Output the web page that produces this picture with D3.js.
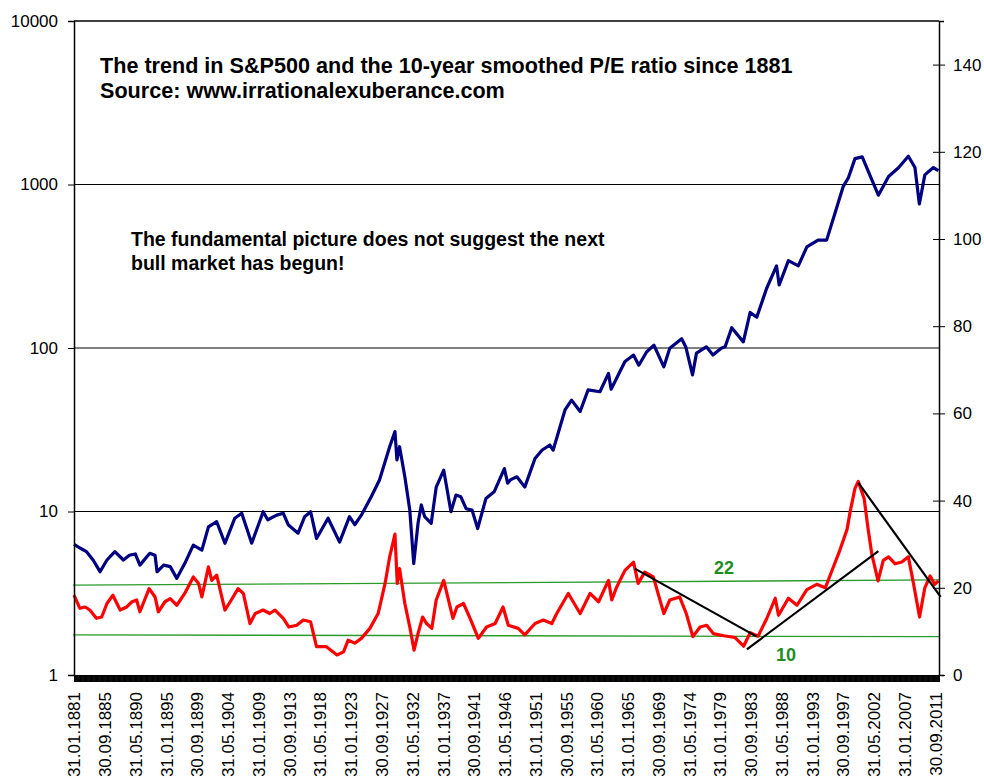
<!DOCTYPE html>
<html><head><meta charset="utf-8">
<script src="https://cdn.jsdelivr.net/npm/d3@7/dist/d3.min.js"></script>
<style>
body{margin:0;background:#fff}
svg text{font-family:Arial,"Liberation Sans",sans-serif}
</style>
</head><body>
<svg id="chart" width="984" height="778"></svg>
<script>
// ---- data ----
const spYears = [1881.0,1881.9,1882.9,1883.9,1884.5,1884.95,1886.0,1887.2,1888.5,1889.4,1890.3,1891.0,1892.5,1893.3,1893.6,1894.6,1895.6,1896.6,1897.8,1899.1,1900.4,1901.4,1902.65,1903.9,1905.4,1906.45,1907.96,1909.7,1910.4,1911.76,1912.76,1913.5,1915.0,1916.0,1916.9,1917.8,1919.55,1921.3,1922.8,1923.6,1924.6,1926.1,1927.35,1928.9,1929.7,1930.0,1930.4,1931.2,1931.95,1932.55,1933.2,1933.7,1934.2,1935.2,1935.96,1937.1,1938.2,1938.95,1939.7,1940.5,1941.4,1942.25,1943.5,1944.75,1946.3,1946.8,1947.2,1948.2,1949.4,1950.95,1952.0,1953.2,1953.7,1955.5,1956.5,1957.8,1959.0,1960.8,1962.1,1962.5,1964.6,1965.9,1966.7,1967.9,1969.0,1970.5,1971.4,1973.2,1973.85,1974.85,1975.45,1976.95,1977.95,1979.2,1979.8,1980.8,1982.56,1983.6,1984.6,1986.1,1987.6,1988.0,1989.4,1990.9,1992.2,1993.9,1995.2,1996.5,1997.7,1998.5,1999.5,2000.6,2002.05,2003.05,2004.6,2006.1,2007.6,2008.6,2009.27,2010.1,2011.4,2012.15];
const spValues = [6.3,5.98,5.68,5.05,4.6,4.28,5.05,5.68,5.05,5.4,5.5,4.7,5.55,5.4,4.28,4.7,4.6,3.9,4.8,6.23,5.8,8.06,8.66,6.39,9.1,9.75,6.4,9.97,8.9,9.5,9.75,8.3,7.37,9.3,9.97,6.84,9.1,6.5,9.3,8.3,9.5,12.3,15.6,24.9,30.8,20.7,24.9,16.3,10.2,4.8,8.47,10.96,9.3,8.47,14.1,17.9,9.97,12.6,12.3,10.4,10.2,7.87,12.0,13.2,18.3,14.9,15.6,16.3,14.1,21.1,23.7,25.5,23.7,41.8,48,40.9,55.4,54,70,56,82.6,90.5,78.5,94.9,104,76.7,99.6,114,101,68.5,93,101.7,90.5,99.5,101.7,133,109,165,154,232,318,243,342,318,415,457,457,674,970,1100,1440,1475,1070,860,1120,1265,1490,1270,760,1145,1270,1215];

const peYears = [1881.0,1881.9,1882.7,1883.4,1884.4,1885.2,1886.0,1886.9,1888.0,1889.0,1889.8,1890.5,1891.0,1892.4,1893.3,1893.8,1894.8,1895.6,1896.6,1897.8,1899.1,1899.9,1900.4,1901.4,1901.9,1902.65,1903.9,1904.7,1905.9,1906.7,1907.7,1908.5,1909.7,1910.7,1911.5,1912.76,1913.6,1914.8,1915.8,1916.9,1917.8,1919.3,1920.9,1921.9,1922.6,1923.6,1924.6,1925.9,1927.15,1928.2,1928.9,1929.7,1930.05,1930.4,1931.2,1931.95,1932.6,1933.2,1933.9,1934.5,1935.3,1935.96,1937.1,1938.5,1939.1,1940.1,1941.1,1942.35,1943.6,1944.9,1946.1,1946.9,1948.4,1949.4,1950.95,1952.2,1953.5,1954.25,1956.0,1957.8,1959.3,1960.6,1962.1,1962.6,1963.35,1964.6,1965.9,1966.6,1967.6,1968.9,1970.5,1971.4,1972.9,1973.9,1974.9,1976.0,1977.0,1978.0,1979.6,1981.3,1982.6,1983.6,1984.8,1986.1,1987.4,1987.9,1989.4,1990.7,1992.2,1993.7,1995.0,1996.0,1997.2,1998.3,1998.75,1999.5,2000.0,2000.9,2001.5,2002.05,2003.0,2003.8,2004.6,2005.6,2006.6,2007.6,2008.4,2009.3,2010.1,2010.9,2011.6,2012.15];
const peValues = [18.3,15.3,15.6,14.9,13.0,13.3,16.4,18.3,14.9,15.6,16.8,17.2,14.5,19.8,17.9,14.5,16.8,17.5,16.0,18.7,22.5,21.0,17.9,24.8,21.7,22.9,14.9,16.8,19.8,18.7,11.8,14.1,14.9,14.1,14.9,13.0,11.0,11.4,12.6,12.2,6.5,6.5,4.6,5.3,8.0,7.3,8.4,10.7,14.1,21.0,27.1,32.3,21.0,24.4,16.4,11.0,5.7,9.5,13.3,11.8,10.7,17.2,21.7,13.0,15.6,16.4,13.0,8.4,11.0,11.8,15.6,11.4,10.7,9.2,11.8,12.6,11.8,14.1,18.7,14.1,18.7,16.8,21.7,17.2,20.2,24.0,25.9,21.0,23.6,22.5,14.1,17.2,17.9,14.1,8.8,11.0,11.4,9.5,9.0,8.6,6.6,9.7,8.9,12.9,17.6,13.7,17.6,16.0,19.6,20.8,20.0,23.9,28.6,33.4,37.3,42.8,44.4,40.4,33.4,27.8,21.6,26.3,27.1,25.5,25.9,27.1,20.8,13.3,20.0,22.7,20.8,21.6];

// hand-drawn trend lines on the P/E (right) axis
const trendStartYear = [1966.1, 1983.1, 2000.0];
const trendStartPE   = [24.4, 5.9, 44.1];
const trendEndYear   = [1984.6, 2003.05, 2012.5];
const trendEndPE     = [8.8, 28.4, 17.9];

// green reference bands (P/E 22 and 10)
const bandLabels    = ["22", "10"];
const bandStartPE   = [20.6, 9.2];
const bandEndPE     = [21.8, 8.8];
const bandLabelYear = [1978.1, 1987.5];
const bandLabelPE   = [23.1, 3.2];

const leftTicks  = [1, 10, 100, 1000, 10000];
const rightTicks = [0, 20, 40, 60, 80, 100, 120, 140];
const xLabels = ["31.01.1881","30.09.1885","31.05.1890","31.01.1895","30.09.1899","31.05.1904","31.01.1909","30.09.1913","31.05.1918","31.01.1923","30.09.1927","31.05.1932","31.01.1937","30.09.1941","31.05.1946","31.01.1951","30.09.1955","31.05.1960","31.01.1965","30.09.1969","31.05.1974","31.01.1979","30.09.1983","31.05.1988","31.01.1993","30.09.1997","31.05.2002","31.01.2007","30.09.2011"];

const titleLines = ["The trend in S&P500 and the 10-year smoothed P/E ratio since 1881", "Source: www.irrationalexuberance.com"];
const noteLines = ["The fundamental picture does not suggest the next", "bull market has begun!"];

// ---- layout ----
const L = 74, R = 939, T = 21, B = 675;
const svg = d3.select("#chart");
const x = d3.scaleLinear().domain([1881, 2012.25]).range([L, R]);
const yL = d3.scaleLog().domain([1, 10000]).range([B, T]);
const yR = d3.scaleLinear().domain([0, 150]).range([B, T]);

// horizontal gridlines (log decades)
svg.append("g").selectAll("line").data(leftTicks.slice(1)).join("line")
  .attr("x1", L).attr("x2", R).attr("y1", d => yL(d)).attr("y2", d => yL(d))
  .attr("stroke", "#000").attr("stroke-width", 1.2);

// green bands
svg.append("g").selectAll("line").data(bandLabels).join("line")
  .attr("x1", L - 1).attr("x2", R)
  .attr("y1", (d, i) => yR(bandStartPE[i])).attr("y2", (d, i) => yR(bandEndPE[i]))
  .attr("stroke", "#2a9a2a").attr("stroke-width", 1.3);

// series
const sp = spYears.map((t, i) => [t, spValues[i]]);
const pe = peYears.map((t, i) => [t, peValues[i]]);
svg.append("path").datum(sp)
  .attr("d", d3.line().x(d => x(d[0])).y(d => yL(d[1])))
  .attr("fill", "none").attr("stroke", "#000080").attr("stroke-width", 3.2).attr("stroke-linejoin", "round");
svg.append("path").datum(pe)
  .attr("d", d3.line().x(d => x(d[0])).y(d => yR(d[1])))
  .attr("fill", "none").attr("stroke", "#ff0000").attr("stroke-width", 3.2).attr("stroke-linejoin", "round");

// trend lines
svg.append("g").selectAll("line").data(trendStartYear).join("line")
  .attr("x1", (d, i) => x(trendStartYear[i])).attr("y1", (d, i) => yR(trendStartPE[i]))
  .attr("x2", (d, i) => x(trendEndYear[i])).attr("y2", (d, i) => yR(trendEndPE[i]))
  .attr("stroke", "#000").attr("stroke-width", 2.2);

// band labels
svg.append("g").selectAll("text").data(bandLabels).join("text")
  .attr("x", (d, i) => x(bandLabelYear[i])).attr("y", (d, i) => yR(bandLabelPE[i]))
  .attr("fill", "#1e8c1e").attr("font-size", 18).attr("font-weight", "bold").text(d => d);

// frame: top border
svg.append("line").attr("x1", L).attr("x2", R).attr("y1", T).attr("y2", T).attr("stroke", "#000").attr("stroke-width", 1.2);

// left axis
const gL = svg.append("g").attr("transform", `translate(${L},0)`)
  .call(d3.axisLeft(yL).tickValues(leftTicks).tickFormat(d3.format("d")).tickSize(6).tickPadding(10));
// right axis
const gR = svg.append("g").attr("transform", `translate(${R},0)`)
  .call(d3.axisRight(yR).tickValues(rightTicks).tickSize(5).tickPadding(9));
gR.selectAll(".tick line").attr("x1", -6).attr("x2", 6);
// bottom axis: monthly tick marks form the thick band
const months = d3.range(0, 1576).map(m => 1881 + m / 12);
svg.append("g").attr("transform", `translate(0,${B})`)
  .call(d3.axisBottom(x).tickValues(months).tickSize(7).tickFormat(""))
  .call(g => g.selectAll(".tick line").attr("stroke-width", 1));
// bottom labels
const labelYear = s => { const p = s.split("."); return +p[2] + (+p[1] - 1) / 12; };
const gB = svg.append("g").attr("transform", `translate(0,${B})`)
  .call(d3.axisBottom(x).tickValues(xLabels.map(labelYear)).tickSize(0)
    .tickFormat((d, i) => xLabels[i]));
gB.select(".domain").remove();
gB.selectAll("text").attr("transform", "rotate(-90)").attr("text-anchor", "end")
  .attr("x", -17).attr("y", 0).attr("dy", "0.35em");

[gL, gR, gB].forEach(g => {
  g.selectAll("text").attr("font-size", 17).attr("fill", "#000").attr("font-family", "Arial, 'Liberation Sans', sans-serif");
  g.selectAll("path.domain, line").attr("stroke", "#000");
});
gL.select(".domain").attr("stroke-width", 1.5);
gR.select(".domain").attr("stroke-width", 1.5);

// titles
svg.append("g").selectAll("text").data(titleLines).join("text")
  .attr("x", 100).attr("y", (d, i) => 73 + i * 25)
  .attr("font-size", 21.6).attr("font-weight", "bold").attr("fill", "#000").text(d => d);
svg.append("g").selectAll("text").data(noteLines).join("text")
  .attr("x", 131).attr("y", (d, i) => 246 + i * 24)
  .attr("font-size", 19.5).attr("font-weight", "bold").attr("fill", "#000").text(d => d);
</script>
</body></html>
